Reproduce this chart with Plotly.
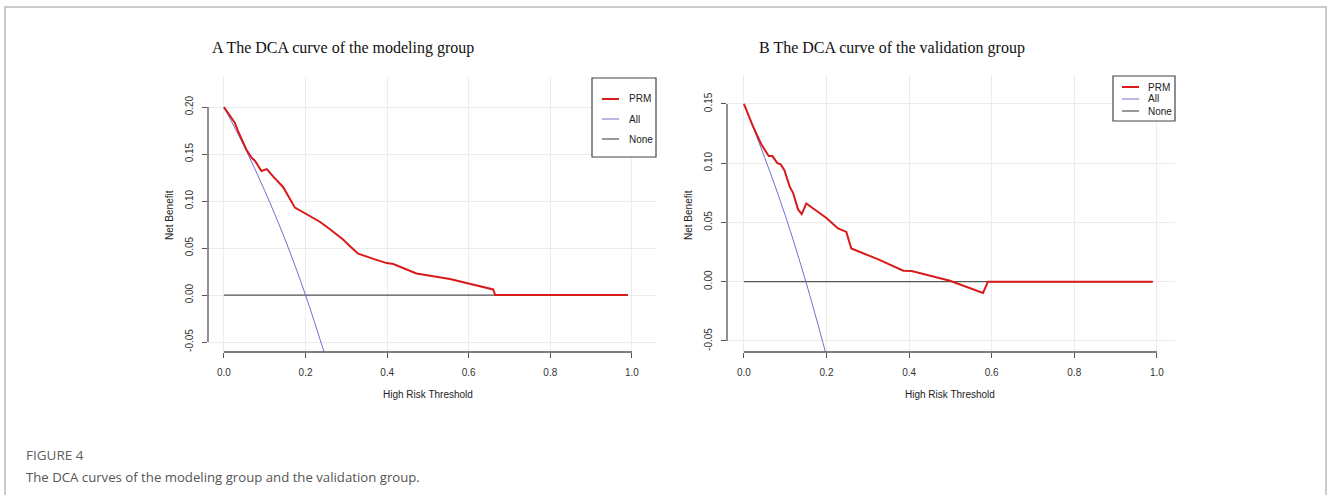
import plotly.graph_objects as go

W, H = 1331, 495

# ---------------- data ----------------
thr_A_prm = [0, 0.027, 0.035, 0.056, 0.068, 0.076, 0.092, 0.105, 0.121, 0.145, 0.174, 0.207,
             0.235, 0.260, 0.292, 0.309, 0.329, 0.370, 0.399, 0.415, 0.472, 0.554, 0.603,
             0.644, 0.660, 0.665, 0.99]
nb_A_prm = [0.200, 0.183, 0.174, 0.154, 0.146, 0.143, 0.132, 0.134, 0.126, 0.115, 0.093, 0.085,
            0.078, 0.070, 0.059, 0.052, 0.044, 0.038, 0.034, 0.033, 0.023, 0.017, 0.012,
            0.008, 0.006, 0.0, 0.0]
thr_A_all = [0, 0.05, 0.10, 0.15, 0.20, 0.25]
nb_A_all = [0.200, 0.158, 0.111, 0.059, 0.000, -0.067]

thr_B_prm = [0, 0.022, 0.042, 0.060, 0.069, 0.081, 0.089, 0.098, 0.111, 0.119, 0.131, 0.140,
             0.151, 0.199, 0.228, 0.248, 0.260, 0.324, 0.386, 0.406, 0.499, 0.579, 0.591, 0.99]
nb_B_prm = [0.150, 0.131, 0.116, 0.106, 0.106, 0.100, 0.099, 0.094, 0.080, 0.075, 0.061, 0.057,
            0.066, 0.054, 0.045, 0.042, 0.028, 0.019, 0.0093, 0.009, 0.0008, -0.0095, 0.0, 0.0]
thr_B_all = [0, 0.05, 0.10, 0.15, 0.20]
nb_B_all = [0.150, 0.105, 0.056, 0.000, -0.0625]

thr_none = [0, 0.99]
nb_none = [0, 0]

x_ticks = [0, 0.2, 0.4, 0.6, 0.8, 1.0]
x_ticktext = ["0.0", "0.2", "0.4", "0.6", "0.8", "1.0"]
yA_ticks = [-0.05, 0.0, 0.05, 0.10, 0.15, 0.20]
yA_ticktext = ["-0.05", "0.00", "0.05", "0.10", "0.15", "0.20"]
yB_ticks = [-0.05, 0.0, 0.05, 0.10, 0.15]
yB_ticktext = ["-0.05", "0.00", "0.05", "0.10", "0.15"]

legend_labels = ["PRM", "All", "None"]
title_A = "A The DCA curve of the modeling group"
title_B = "B The DCA curve of the validation group"
x_title = "High Risk Threshold"
y_title = "Net Benefit"
fig_label = "FIGURE 4"
caption = "The DCA curves of the modeling group and the validation group."

# ---------------- styles ----------------
RED = "#d91a1a"
BLUE = "#6f6fd0"
GRAY = "#555555"
colors = [RED, BLUE, GRAY]
widths = [2, 1, 1.2]
RFONT = "Liberation Sans, Arial"
RSIZE = 10


def px(x):
    return x / W


def py(y):
    return 1 - y / H


fig = go.Figure()

# Panel A
fig.add_trace(go.Scatter(x=thr_none, y=nb_none, mode="lines", line=dict(color=GRAY, width=1.2),
                         xaxis="x", yaxis="y", showlegend=False))
fig.add_trace(go.Scatter(x=thr_A_all, y=nb_A_all, mode="lines", line=dict(color=BLUE, width=1, shape="spline"),
                         xaxis="x", yaxis="y", showlegend=False))
fig.add_trace(go.Scatter(x=thr_A_prm, y=nb_A_prm, mode="lines", line=dict(color=RED, width=2),
                         xaxis="x", yaxis="y", showlegend=False))
# Panel B
fig.add_trace(go.Scatter(x=thr_none, y=nb_none, mode="lines", line=dict(color=GRAY, width=1.2),
                         xaxis="x2", yaxis="y2", showlegend=False))
fig.add_trace(go.Scatter(x=thr_B_all, y=nb_B_all, mode="lines", line=dict(color=BLUE, width=1, shape="spline"),
                         xaxis="x2", yaxis="y2", showlegend=False))
fig.add_trace(go.Scatter(x=thr_B_prm, y=nb_B_prm, mode="lines", line=dict(color=RED, width=2),
                         xaxis="x2", yaxis="y2", showlegend=False))

tickfont = dict(family=RFONT, size=RSIZE, color="#333333")
common_x = dict(tickvals=x_ticks, ticktext=x_ticktext, showgrid=True, gridcolor="#ececec",
                zeroline=False, showline=False, ticks="outside", ticklen=5, tickcolor=GRAY,
                tickwidth=1, tickfont=tickfont, ticklabelstandoff=6, fixedrange=True)
common_y = dict(showgrid=True, gridcolor="#ececec", zeroline=False, showline=False,
                ticks="outside", ticklen=5, tickcolor=GRAY, tickwidth=1, tickfont=tickfont,
                tickangle=-90, ticklabelstandoff=5, fixedrange=True)

# pixel geometry of plot regions
A_l, A_r, A_t, A_b = 208, 656, 77, 352
B_l, B_r, B_t, B_b = 727, 1175, 75, 352

fig.update_layout(
    width=W, height=H, margin=dict(l=0, r=0, t=0, b=0),
    paper_bgcolor="white", plot_bgcolor="white", showlegend=False,
    xaxis=dict(domain=[px(A_l), px(A_r)], range=[-0.039, 1.059], anchor="y", **common_x),
    yaxis=dict(domain=[py(A_b), py(A_t)], range=[-0.0606, 0.232], anchor="x",
               tickvals=yA_ticks, ticktext=yA_ticktext, **common_y),
    xaxis2=dict(domain=[px(B_l), px(B_r)], range=[-0.041, 1.044], anchor="y2", **common_x),
    yaxis2=dict(domain=[py(B_b), py(B_t)], range=[-0.0593, 0.1744], anchor="x2",
                tickvals=yB_ticks, ticktext=yB_ticktext, **common_y),
)

shapes = []
annotations = []

# R-style axis lines spanning only the tick range
for xa, ya, yt in [("x", "y", yA_ticks), ("x2", "y2", yB_ticks)]:
    shapes.append(dict(type="line", xref=f"{xa} domain", yref=ya, x0=0, x1=0,
                       y0=min(yt), y1=max(yt), line=dict(color=GRAY, width=1.3)))
    shapes.append(dict(type="line", xref=xa, yref=f"{ya} domain", x0=min(x_ticks), x1=max(x_ticks),
                       y0=0, y1=0, line=dict(color=GRAY, width=1.3)))

# axis titles
axfont = dict(family=RFONT, size=RSIZE, color="#222222")
for center_x in [428, 950]:
    annotations.append(dict(text=x_title, x=px(center_x), y=py(394), xref="paper", yref="paper",
                            showarrow=False, font=axfont, xanchor="center", yanchor="middle"))
for xc, yc in [(169, 215), (688, 215)]:
    annotations.append(dict(text=y_title, x=px(xc), y=py(yc), xref="paper", yref="paper",
                            showarrow=False, font=axfont, textangle=-90,
                            xanchor="center", yanchor="middle"))

# panel titles
tfont = dict(family="Liberation Serif, Times New Roman", size=16, color="#111111")
annotations.append(dict(text=title_A, x=px(210), y=py(48), xref="paper", yref="paper",
                        showarrow=False, font=tfont, xanchor="left", yanchor="middle"))
annotations.append(dict(text=title_B, x=px(757), y=py(48), xref="paper", yref="paper",
                        showarrow=False, font=tfont, xanchor="left", yanchor="middle"))

# manual legends (R-style boxes)
legends = [
    dict(box=(592, 78, 656, 157), sw=(602, 619), tx=627, rows=[99, 119, 139], fs=RSIZE),
    dict(box=(1113, 76, 1175, 121), sw=(1122, 1139), tx=1146, rows=[87, 99, 111], fs=RSIZE),
]
for lg in legends:
    x0, y0, x1, y1 = lg["box"]
    shapes.append(dict(type="rect", xref="paper", yref="paper", x0=px(x0), x1=px(x1),
                       y0=py(y1), y1=py(y0), line=dict(color="#444444", width=1.2),
                       fillcolor="white", layer="above"))
    for lab, col, wd, ry in zip(legend_labels, colors, widths, lg["rows"]):
        shapes.append(dict(type="line", xref="paper", yref="paper", x0=px(lg["sw"][0]),
                           x1=px(lg["sw"][1]), y0=py(ry), y1=py(ry),
                           line=dict(color=col, width=wd), layer="above"))
        annotations.append(dict(text=lab, x=px(lg["tx"]), y=py(ry), xref="paper", yref="paper",
                                showarrow=False, xanchor="left", yanchor="middle",
                                font=dict(family=RFONT, size=lg["fs"], color="#222222")))

# page frame
shapes.append(dict(type="path", xref="paper", yref="paper",
                   path=f"M {px(5)},{py(H+5)} L {px(5)},{py(7)} L {px(1326)},{py(7)} L {px(1326)},{py(H+5)}",
                   line=dict(color="#bbbbbb", width=1.5)))

# caption
annotations.append(dict(text=fig_label, x=px(24), y=py(455), xref="paper", yref="paper",
                        showarrow=False, xanchor="left", yanchor="middle",
                        font=dict(family="Open Sans, Noto Sans", size=13.5, color="#606060")))
annotations.append(dict(text=caption, x=px(24), y=py(477), xref="paper", yref="paper",
                        showarrow=False, xanchor="left", yanchor="middle",
                        font=dict(family="Open Sans, Noto Sans", size=13.2, color="#555555")))

fig.update_layout(shapes=shapes, annotations=annotations)
fig.write_html("out.html", config={"displayModeBar": False},
               post_script="document.body.style.margin='0';document.body.style.overflow='hidden';")
